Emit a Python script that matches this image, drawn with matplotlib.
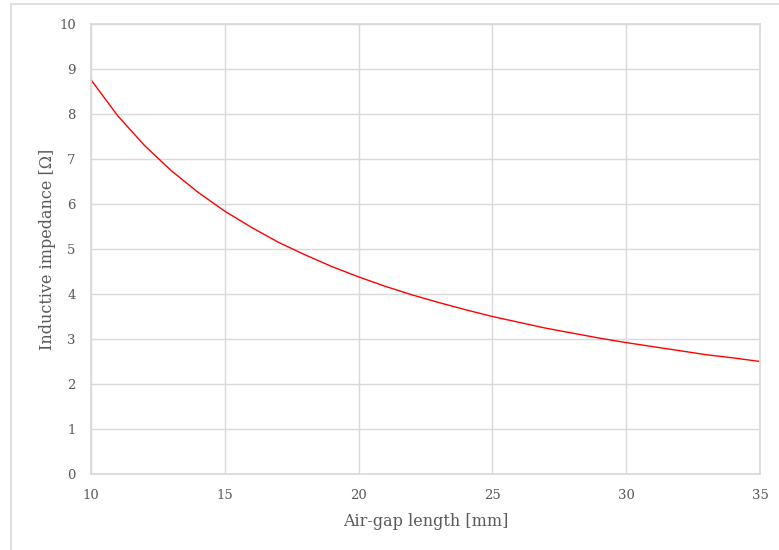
import matplotlib
matplotlib.use("Agg")
import matplotlib.pyplot as plt
from matplotlib.patches import Rectangle

# air gap [mm] vs inductive impedance [ohm]
gap_mm = [10, 11, 12, 13, 14, 15, 16, 17, 18, 19, 20, 21, 22,
          23, 24, 25, 26, 27, 28, 29, 30, 31, 32, 33, 34, 35]
impedance = [8.76, 7.96, 7.30, 6.74, 6.26, 5.84, 5.48, 5.15, 4.87, 4.61,
             4.38, 4.17, 3.98, 3.81, 3.65, 3.50, 3.37, 3.24, 3.13, 3.02,
             2.92, 2.83, 2.74, 2.65, 2.58, 2.50]
x_ticks = [10, 15, 20, 25, 30, 35]
y_ticks = list(range(0, 11))

plt.rcParams['font.family'] = ['DejaVu Serif']
grey = '#d9d9d9'
text_col = '#595959'

fig = plt.figure(figsize=(7.79, 5.5), dpi=100)
# outer chart frame (runs off the right and bottom edges)
fig.patches.append(Rectangle((11 / 779, -0.05), 1.05, 1 - 4 / 550 + 0.05,
                             transform=fig.transFigure, fill=False,
                             edgecolor=grey, lw=1.2))

ax = fig.add_axes([91 / 779, 1 - 474 / 550, (760 - 91) / 779, (474 - 24) / 550])
ax.plot(gap_mm, impedance, color='#ff0000', lw=1.0)

ax.set_xlim(10, 35)
ax.set_ylim(0, 10)
ax.set_xticks(x_ticks)
ax.set_yticks(y_ticks)
ax.grid(True, color=grey, lw=1.0)
ax.set_axisbelow(True)
for s in ax.spines.values():
    s.set_color(grey)
    s.set_linewidth(1.2)
ax.tick_params(length=0, labelsize=9.5, colors=text_col, pad=11)

ax.set_xlabel('Air-gap length [mm]', fontsize=11.5, color=text_col, labelpad=8)
ax.set_ylabel('Inductive impedance [Ω]', fontsize=11.5, color=text_col, labelpad=2)

fig.savefig('out.png', dpi=100)
